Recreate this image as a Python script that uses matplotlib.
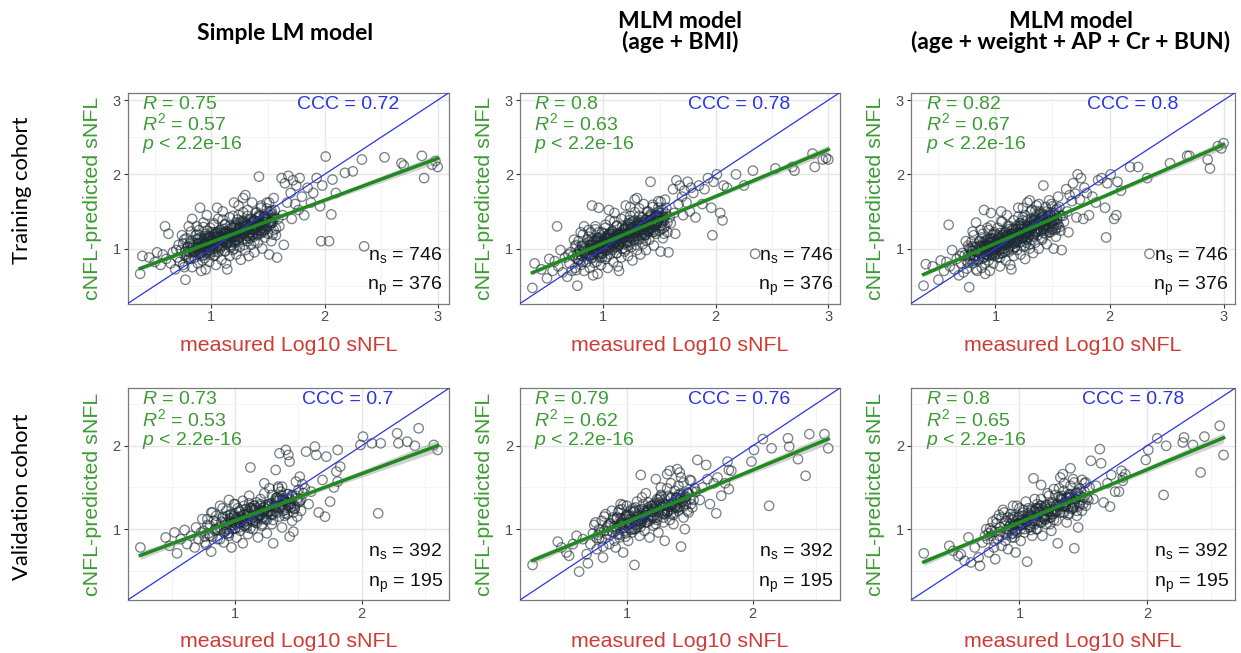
import numpy as np
import matplotlib.pyplot as plt

plt.rcParams['font.family'] = ['Liberation Sans', 'DejaVu Sans']
plt.rcParams['mathtext.fontset'] = 'custom'
plt.rcParams['mathtext.rm'] = 'Liberation Sans'
plt.rcParams['mathtext.it'] = 'Liberation Sans:italic'

models = [['Simple LM model'], ['MLM model', '(age + BMI)'],
          ['MLM model', '(age + weight + AP + Cr + BUN)']]
cohorts = ['Training cohort', 'Validation cohort']

# measured log10 sNFL, training cohort (shared by the three models)
train_x = [
    0.37, 0.39, 0.45, 0.50, 0.52, 0.55, 0.57, 0.59, 0.60, 0.62, 0.64,
    0.66, 0.68, 0.70, 0.71, 0.72, 0.73, 0.75, 0.76, 0.77, 0.78, 0.79, 0.80, 0.80, 0.74, 0.69,
    0.81, 0.82, 0.83, 0.84, 0.85, 0.86, 0.87, 0.88, 0.88, 0.89, 0.90, 0.91, 0.91, 0.92, 0.93,
    0.94, 0.94, 0.95, 0.96, 0.96, 0.97, 0.98, 0.98, 0.99, 0.99, 1.00, 0.83, 0.87, 0.95, 0.90,
    1.01, 1.02, 1.02, 1.03, 1.04, 1.04, 1.05, 1.06, 1.06, 1.07, 1.08, 1.08, 1.09, 1.10, 1.10,
    1.11, 1.12, 1.12, 1.13, 1.14, 1.14, 1.15, 1.16, 1.16, 1.17, 1.18, 1.18, 1.19, 1.20, 1.20,
    1.05, 1.13,
    1.21, 1.22, 1.22, 1.23, 1.24, 1.25, 1.25, 1.26, 1.27, 1.28, 1.28, 1.29, 1.30, 1.31, 1.32,
    1.32, 1.33, 1.34, 1.35, 1.35, 1.36, 1.37, 1.38, 1.38, 1.39, 1.40, 1.30, 1.24,
    1.41, 1.42, 1.42, 1.43, 1.44, 1.45, 1.46, 1.47, 1.48, 1.49, 1.50, 1.51, 1.52, 1.53, 1.54,
    1.55, 1.56, 1.57, 1.58, 1.59, 1.60, 1.55,
    1.62, 1.63, 1.64, 1.65, 1.67, 1.68, 1.70, 1.71, 1.72, 1.74, 1.75, 1.77, 1.78, 1.80, 1.82,
    1.85, 1.88, 1.90,
    1.93, 1.96, 1.97, 1.98, 2.01, 2.04, 2.06, 2.07, 2.10, 2.18, 2.25, 2.33, 2.35,
    2.53, 2.68, 2.70, 2.86, 2.88, 2.95, 3.00, 2.98,
    # dense core
    0.76, 0.82, 0.78, 0.84, 0.80, 0.77, 0.83, 0.79, 0.81, 0.75, 0.78, 0.82, 0.80, 0.84, 0.76, 0.81,
    0.86, 0.92, 0.88, 0.94, 0.90, 0.87, 0.93, 0.89, 0.91, 0.85, 0.88, 0.92, 0.90, 0.94, 0.86, 0.91,
    0.96, 1.02, 0.98, 1.04, 1.00, 0.97, 1.03, 0.99, 1.01, 0.95, 0.98, 1.02, 1.00, 1.04, 0.96, 1.01,
    1.06, 1.12, 1.08, 1.14, 1.10, 1.07, 1.13, 1.09, 1.11, 1.05, 1.08, 1.12, 1.10, 1.14, 1.06, 1.11,
    1.16, 1.22, 1.18, 1.24, 1.20, 1.17, 1.23, 1.19, 1.21, 1.15, 1.18, 1.22, 1.20, 1.24, 1.16, 1.21,
    1.26, 1.32, 1.28, 1.34, 1.30, 1.27, 1.33, 1.29, 1.31, 1.25, 1.28, 1.32, 1.30, 1.34, 1.26, 1.31,
    1.36, 1.42, 1.38, 1.44, 1.40, 1.37, 1.43, 1.39, 1.41, 1.35, 1.38, 1.42, 1.40, 1.44, 1.36, 1.41,
    1.46, 1.52, 1.48, 1.54, 1.50, 1.47, 1.53, 1.49, 1.51, 1.45, 1.48, 1.52, 1.50, 1.54, 1.46, 1.51,
    0.91, 0.96, 0.89, 0.94, 0.92, 0.97, 0.88, 0.93, 1.01, 1.06, 0.99, 1.04, 1.02, 1.07, 0.98, 1.03,
    1.11, 1.16, 1.09, 1.14, 1.12, 1.17, 1.08, 1.13, 1.21, 1.26, 1.19, 1.24, 1.22, 1.27, 1.18, 1.23,
    1.31, 1.36, 1.29, 1.34, 1.32, 1.37, 1.28, 1.33, 1.41, 1.46, 1.39, 1.44, 1.42, 1.47, 1.38, 1.43,
    1.51, 1.56, 1.49, 1.54, 1.52, 1.57, 1.48, 1.53,
    0.90, 0.95, 0.92, 0.97, 0.94, 0.99, 0.91, 0.96, 0.93, 0.98,
    1.00, 1.05, 1.02, 1.07, 1.04, 1.09, 1.01, 1.06, 1.03, 1.08,
    1.10, 1.15, 1.12, 1.17, 1.14, 1.19, 1.11, 1.16, 1.13, 1.18,
    1.20, 1.25, 1.22, 1.27, 1.24, 1.29, 1.21, 1.26, 1.23, 1.28,
    1.30, 1.35, 1.32, 1.37, 1.34, 1.39, 1.31, 1.36, 1.33, 1.38,
    1.40, 1.45, 1.42, 1.47, 1.44, 1.49, 1.41, 1.46, 1.43, 1.48,
]

train_pred_lm = [
    0.66, 0.90, 0.88, 0.82, 0.95, 0.78, 0.92, 1.30, 0.86, 1.20, 0.80,
    0.95, 0.72, 0.88, 1.05, 0.82, 0.98, 0.78, 1.12, 0.58, 0.92, 1.02, 0.86, 1.30, 1.18, 0.98,
    0.95, 1.10, 0.75, 1.02, 0.88, 1.18, 0.98, 1.06, 0.80, 1.25, 0.93, 1.12, 0.70, 1.00, 1.35,
    0.87, 1.08, 1.20, 0.96, 1.45, 1.04, 0.82, 1.14, 0.92, 1.28, 1.05, 1.40, 1.30, 0.72, 1.55,
    1.12, 0.90, 1.32, 1.00, 1.20, 0.78, 1.08, 1.40, 0.95, 1.15, 1.02, 1.25, 0.85, 1.10, 1.50,
    1.18, 0.97, 1.32, 1.06, 1.22, 0.72, 1.12, 0.90, 1.42, 1.02, 1.28, 1.15, 0.98, 1.20, 1.62,
    1.55, 0.80,
    1.08, 1.35, 0.92, 1.16, 1.45, 1.02, 1.25, 0.85, 1.12, 1.38, 1.68, 1.20, 0.98, 1.30, 1.10,
    1.52, 0.90, 1.22, 1.40, 1.05, 1.62, 1.16, 1.30, 0.95, 1.48, 1.20, 1.72, 1.58,
    1.08, 1.35, 1.97, 1.25, 1.55, 1.00, 1.40, 1.15, 1.30, 1.62, 1.20, 0.92, 1.45, 1.10, 1.35,
    1.25, 1.52, 1.18, 0.88, 1.40, 1.30, 1.68,
    1.95, 1.45, 1.05, 1.88, 1.62, 1.98, 1.75, 1.40, 1.92, 1.60, 1.85, 1.52, 1.95, 1.70, 1.45,
    1.82, 1.62, 1.75,
    1.95, 1.57, 1.10, 1.85, 2.24, 1.10, 1.46, 1.93, 1.75, 2.02, 2.04, 2.20, 1.03,
    2.23, 2.15, 2.12, 2.25, 1.95, 2.13, 2.10, 2.18,
    # dense core
    0.75, 0.86, 0.89, 0.95, 0.96, 0.96, 1.01, 1.02, 1.06, 1.07, 1.14, 1.23, 0.88, 1.04, 0.91, 1.08,
    1.01, 1.06, 1.07, 1.14, 1.15, 1.19, 1.29, 0.93, 1.08, 0.96, 1.12, 0.84, 0.90, 0.98, 0.96, 1.02,
    1.24, 1.34, 0.98, 1.15, 1.05, 1.17, 0.91, 0.95, 1.02, 1.01, 1.06, 1.10, 1.11, 1.16, 1.15, 1.22,
    1.22, 0.96, 1.00, 1.09, 1.10, 1.11, 1.16, 1.16, 1.20, 1.20, 1.25, 1.33, 1.39, 1.07, 1.16, 1.11,
    1.16, 1.21, 1.21, 1.28, 1.28, 1.31, 1.39, 1.44, 1.11, 1.21, 1.15, 1.31, 1.00, 1.10, 1.10, 1.16,
    1.36, 1.44, 1.49, 1.18, 1.30, 1.20, 1.38, 1.05, 1.13, 1.15, 1.20, 1.25, 1.26, 1.30, 1.29, 1.34,
    1.25, 1.43, 1.10, 1.21, 1.24, 1.25, 1.31, 1.31, 1.34, 1.34, 1.38, 1.45, 1.49, 1.58, 1.19, 1.36,
    1.30, 1.36, 1.36, 1.41, 1.42, 1.43, 1.51, 1.54, 1.62, 1.24, 1.40, 1.34, 1.47, 1.19, 1.22, 1.30,
    0.94, 1.02, 1.01, 1.07, 1.08, 1.14, 1.13, 0.91, 1.11, 1.16, 1.15, 1.22, 0.96, 1.03, 1.03, 1.09,
    1.26, 1.04, 1.04, 1.12, 1.14, 1.20, 1.17, 1.23, 1.16, 1.22, 1.21, 1.27, 1.28, 1.35, 1.05, 1.12,
    1.30, 1.36, 1.36, 1.14, 1.17, 1.25, 1.23, 1.29, 1.18, 1.25, 1.26, 1.32, 1.34, 1.40, 1.37, 1.44,
    1.36, 1.42, 1.41, 1.46, 1.49, 1.27, 1.26, 1.34,
    0.95, 1.02, 1.03, 1.09, 1.11, 1.17, 0.98, 1.07, 1.12, 0.97,
    1.11, 1.17, 1.19, 1.07, 1.11, 1.21, 0.99, 1.04, 1.07, 1.12,
    1.09, 1.17, 1.23, 1.08, 1.09, 1.16, 1.14, 1.20, 1.21, 1.28,
    1.09, 1.15, 1.17, 1.23, 1.25, 1.30, 1.30, 1.18, 1.22, 1.32,
    1.25, 1.31, 1.32, 1.39, 1.22, 1.31, 1.34, 1.18, 1.20, 1.26,
    1.41, 1.28, 1.33, 1.43, 1.23, 1.29, 1.28, 1.34, 1.35, 1.41,
]

train_pred_bmi = [
    0.47, 0.80, 0.72, 0.60, 0.86, 0.70, 0.83, 1.30, 0.76, 0.98, 0.68,
    0.88, 0.62, 0.80, 0.95, 0.70, 0.90, 0.74, 1.05, 0.50, 0.85, 0.96, 0.78, 1.22, 1.12, 0.92,
    0.90, 1.04, 0.70, 0.96, 0.82, 1.12, 0.92, 1.00, 0.74, 1.22, 0.88, 1.08, 0.64, 0.96, 1.30,
    0.82, 1.04, 1.15, 0.92, 1.55, 1.00, 0.78, 1.10, 0.88, 1.22, 1.02, 1.30, 1.25, 0.66, 1.58,
    1.10, 0.86, 1.28, 0.98, 1.18, 0.74, 1.04, 1.38, 0.92, 1.12, 1.00, 1.22, 0.82, 1.08, 1.48,
    1.16, 0.94, 1.30, 1.04, 1.20, 0.70, 1.10, 0.88, 1.40, 1.00, 1.26, 1.14, 0.96, 1.20, 1.58,
    1.52, 0.76,
    1.08, 1.34, 0.90, 1.16, 1.44, 1.02, 1.26, 0.84, 1.12, 1.38, 1.66, 1.22, 0.98, 1.32, 1.12,
    1.54, 0.92, 1.24, 1.42, 1.06, 1.60, 1.18, 1.32, 0.98, 1.50, 1.22, 1.68, 1.56,
    1.12, 1.38, 1.90, 1.28, 1.56, 1.04, 1.42, 1.20, 1.34, 1.64, 1.24, 0.96, 1.48, 1.14, 1.38,
    1.30, 1.55, 1.22, 0.95, 1.42, 1.34, 1.66,
    1.80, 1.48, 1.20, 1.92, 1.60, 1.85, 1.70, 1.45, 1.78, 1.62, 1.90, 1.50, 1.82, 1.75, 1.42,
    1.85, 1.60, 1.80,
    1.95, 1.55, 1.18, 1.90, 2.00, 1.48, 1.38, 1.85, 1.82, 2.00, 1.85, 2.05, 0.93,
    2.08, 2.10, 2.05, 2.28, 2.10, 2.20, 2.20, 2.22,
    # dense core
    0.71, 0.82, 0.85, 0.91, 0.92, 0.92, 0.97, 0.98, 1.02, 1.03, 1.10, 1.19, 0.84, 1.00, 0.87, 1.04,
    0.98, 1.03, 1.04, 1.11, 1.12, 1.16, 1.26, 0.90, 1.05, 0.93, 1.09, 0.81, 0.87, 0.95, 0.93, 0.99,
    1.22, 1.32, 0.96, 1.13, 1.03, 1.15, 0.89, 0.93, 1.00, 0.99, 1.04, 1.08, 1.09, 1.14, 1.13, 1.20,
    1.20, 0.94, 0.98, 1.07, 1.08, 1.09, 1.14, 1.14, 1.18, 1.18, 1.23, 1.31, 1.37, 1.05, 1.14, 1.09,
    1.15, 1.20, 1.20, 1.27, 1.27, 1.30, 1.38, 1.43, 1.10, 1.20, 1.14, 1.30, 0.99, 1.09, 1.09, 1.15,
    1.36, 1.44, 1.49, 1.18, 1.30, 1.20, 1.38, 1.05, 1.13, 1.15, 1.20, 1.25, 1.26, 1.30, 1.29, 1.34,
    1.26, 1.44, 1.11, 1.22, 1.25, 1.26, 1.32, 1.32, 1.35, 1.35, 1.39, 1.46, 1.50, 1.59, 1.20, 1.37,
    1.31, 1.37, 1.37, 1.42, 1.43, 1.44, 1.52, 1.55, 1.63, 1.25, 1.41, 1.35, 1.48, 1.20, 1.23, 1.31,
    0.98, 1.04, 1.05, 1.11, 1.10, 0.88, 0.91, 0.99, 1.13, 1.20, 0.94, 1.01, 1.01, 1.07, 1.09, 1.14,
    1.02, 1.10, 1.12, 1.18, 1.15, 1.21, 1.24, 1.02, 1.20, 1.26, 1.27, 1.34, 1.04, 1.11, 1.15, 1.21,
    1.36, 1.14, 1.17, 1.25, 1.23, 1.29, 1.30, 1.36, 1.27, 1.33, 1.35, 1.41, 1.38, 1.45, 1.19, 1.26,
    1.42, 1.47, 1.50, 1.28, 1.27, 1.35, 1.37, 1.43,
    1.08, 1.14, 0.95, 1.04, 1.09, 0.94, 0.92, 0.99, 1.00, 1.06,
    1.09, 1.19, 0.97, 1.02, 1.05, 1.10, 1.09, 1.15, 1.17, 1.05,
    1.07, 1.14, 1.12, 1.18, 1.19, 1.26, 1.07, 1.15, 1.21, 1.06,
    1.24, 1.29, 1.29, 1.17, 1.21, 1.31, 1.08, 1.14, 1.16, 1.22,
    1.22, 1.31, 1.34, 1.18, 1.20, 1.26, 1.25, 1.31, 1.32, 1.39,
    1.24, 1.30, 1.29, 1.35, 1.36, 1.42, 1.42, 1.29, 1.34, 1.44,
]

train_pred_full = [
    0.50, 0.79, 0.76, 0.58, 0.84, 0.70, 0.82, 1.32, 0.76, 0.98, 0.72,
    0.86, 0.64, 0.80, 0.94, 0.68, 0.91, 0.73, 1.04, 0.48, 0.86, 0.97, 0.80, 1.23, 1.10, 0.90,
    0.90, 1.02, 0.72, 0.95, 0.84, 1.10, 0.93, 1.00, 0.74, 1.20, 0.88, 1.06, 0.66, 0.96, 1.28,
    0.84, 1.04, 1.14, 0.93, 1.48, 1.00, 0.80, 1.10, 0.90, 1.22, 1.02, 1.35, 1.25, 0.70, 1.52,
    1.10, 0.88, 1.28, 0.98, 1.16, 0.76, 1.06, 1.36, 0.94, 1.12, 1.00, 1.22, 0.84, 1.08, 1.45,
    1.16, 0.96, 1.30, 1.04, 1.20, 0.72, 1.10, 0.90, 1.38, 1.02, 1.26, 1.14, 0.98, 1.20, 1.55,
    1.50, 0.78,
    1.08, 1.34, 0.92, 1.16, 1.42, 1.02, 1.26, 0.86, 1.12, 1.38, 1.62, 1.22, 1.00, 1.32, 1.12,
    1.52, 0.94, 1.24, 1.42, 1.08, 1.58, 1.18, 1.34, 1.00, 1.50, 1.24, 1.65, 1.55,
    1.14, 1.38, 1.85, 1.30, 1.56, 1.06, 1.44, 1.22, 1.34, 1.60, 1.26, 1.00, 1.48, 1.16, 1.40,
    1.32, 1.56, 1.24, 0.98, 1.44, 1.36, 1.70,
    1.80, 1.50, 1.22, 1.72, 1.64, 1.88, 1.74, 1.42, 2.00, 1.66, 1.95, 1.40, 1.82, 1.75, 1.45,
    1.70, 1.62, 1.92,
    1.95, 1.55, 1.15, 1.88, 2.00, 1.40, 1.45, 1.90, 1.78, 2.10, 2.10, 1.95, 0.93,
    2.15, 2.25, 2.25, 2.20, 2.08, 2.38, 2.42, 2.35,
    # dense core
    0.90, 0.91, 0.91, 0.96, 0.97, 1.01, 1.02, 1.09, 1.18, 0.83, 0.99, 0.86, 1.03, 0.70, 0.81, 0.84,
    1.10, 1.11, 1.15, 1.25, 0.89, 1.04, 0.92, 1.08, 0.80, 0.86, 0.94, 0.92, 0.98, 0.97, 1.02, 1.03,
    1.12, 1.02, 1.14, 0.88, 0.92, 0.99, 0.98, 1.03, 1.07, 1.08, 1.13, 1.12, 1.19, 1.21, 1.31, 0.95,
    1.07, 1.08, 1.09, 1.14, 1.14, 1.18, 1.18, 1.23, 1.31, 1.37, 1.05, 1.14, 1.09, 1.20, 0.94, 0.98,
    1.27, 1.27, 1.30, 1.38, 1.43, 1.10, 1.20, 1.14, 1.30, 0.99, 1.09, 1.09, 1.15, 1.15, 1.20, 1.20,
    1.19, 1.31, 1.21, 1.39, 1.06, 1.14, 1.16, 1.21, 1.26, 1.27, 1.31, 1.30, 1.35, 1.37, 1.45, 1.50,
    1.23, 1.26, 1.27, 1.33, 1.33, 1.36, 1.36, 1.40, 1.47, 1.51, 1.60, 1.21, 1.38, 1.27, 1.45, 1.12,
    1.44, 1.45, 1.46, 1.54, 1.57, 1.65, 1.27, 1.43, 1.37, 1.50, 1.22, 1.25, 1.33, 1.33, 1.39, 1.39,
    1.10, 1.09, 0.87, 0.90, 0.98, 0.97, 1.03, 1.04, 1.00, 1.00, 1.06, 1.08, 1.13, 1.12, 1.19, 0.93,
    1.18, 1.15, 1.21, 1.24, 1.02, 1.02, 1.10, 1.12, 1.34, 1.04, 1.11, 1.15, 1.21, 1.20, 1.26, 1.27,
    1.26, 1.24, 1.30, 1.31, 1.37, 1.37, 1.15, 1.18, 1.42, 1.39, 1.46, 1.20, 1.27, 1.28, 1.34, 1.36,
    1.30, 1.29, 1.37, 1.39, 1.45, 1.44, 1.49, 1.52,
    1.03, 1.08, 0.93, 0.91, 0.98, 0.99, 1.05, 1.07, 1.13, 0.94,
    1.01, 1.04, 1.09, 1.08, 1.14, 1.16, 1.04, 1.08, 1.18, 0.96,
    1.18, 1.19, 1.26, 1.07, 1.15, 1.21, 1.06, 1.07, 1.14, 1.12,
    1.17, 1.21, 1.31, 1.08, 1.14, 1.16, 1.22, 1.24, 1.29, 1.29,
    1.19, 1.21, 1.27, 1.26, 1.32, 1.33, 1.40, 1.23, 1.32, 1.35,
    1.36, 1.37, 1.43, 1.43, 1.30, 1.35, 1.45, 1.25, 1.31, 1.30,
]

# measured log10 sNFL, validation cohort
valid_x = [
    0.25, 0.45, 0.48, 0.52, 0.54, 0.57, 0.60, 0.62, 0.65, 0.68,
    0.69, 0.71, 0.73, 0.74, 0.76, 0.78, 0.80, 0.81, 0.82, 0.84,
    0.85, 0.86, 0.88, 0.89, 0.90, 0.91, 0.92, 0.93, 0.94, 0.95,
    0.96, 0.97, 0.98, 0.99, 1.00, 1.01, 1.02, 1.03, 1.04, 1.05,
    1.06, 1.07, 1.08, 1.09, 1.10, 1.11, 1.12, 1.12, 1.13, 1.14,
    1.15, 1.16, 1.17, 1.18, 1.19, 1.20, 1.21, 1.22, 1.23, 1.24,
    1.25, 1.26, 1.27, 1.28, 1.29, 1.30, 1.31, 1.32, 1.33, 1.34,
    1.35, 1.35, 1.36, 1.37, 1.38, 1.39, 1.40, 1.41, 1.42, 1.43,
    1.43, 1.44, 1.45, 1.46, 1.47, 1.48, 1.49, 1.50, 1.51, 1.52,
    1.55, 1.56, 1.58, 1.60, 1.63, 1.64, 1.66, 1.69, 1.71, 1.72,
    1.75, 1.78, 1.80, 1.81, 1.83, 1.81, 1.99, 2.01, 2.08, 2.13,
    2.15, 2.28, 2.29, 2.36, 2.42, 2.45, 2.57, 2.60,
    # dense core
    0.77, 0.82, 0.79, 0.84, 0.75, 0.80, 0.83, 0.78, 0.81, 0.76,
    0.87, 0.92, 0.89, 0.94, 0.85, 0.90, 0.93, 0.88, 0.91, 0.86,
    0.97, 1.02, 0.99, 1.04, 0.95, 1.00, 1.03, 0.98, 1.01, 0.96,
    1.07, 1.12, 1.09, 1.14, 1.05, 1.10, 1.13, 1.08, 1.11, 1.06,
    1.17, 1.22, 1.19, 1.24, 1.15, 1.20, 1.23, 1.18, 1.21, 1.16,
    1.27, 1.32, 1.29, 1.34, 1.25, 1.30, 1.33, 1.28, 1.31, 1.26,
    1.37, 1.42, 1.39, 1.44, 1.35, 1.40, 1.43, 1.38, 1.41, 1.36,
    1.47, 1.52, 1.49, 1.54, 1.45, 1.50, 1.53, 1.48, 1.51, 1.46,
    0.92, 0.97, 0.94, 0.99, 0.90, 0.95, 1.02, 1.07, 1.04, 1.09, 1.00, 1.05,
    1.12, 1.17, 1.14, 1.19, 1.10, 1.15, 1.22, 1.27, 1.24, 1.29, 1.20, 1.25,
    1.32, 1.37, 1.34, 1.39, 1.30, 1.35, 1.42, 1.47, 1.44, 1.49, 1.40, 1.45,
    0.95, 1.00, 0.97, 1.02, 0.99, 1.03, 0.96, 1.01,
    1.05, 1.10, 1.07, 1.12, 1.09, 1.13, 1.06, 1.11,
    1.15, 1.20, 1.17, 1.22, 1.19, 1.23, 1.16, 1.21,
    1.25, 1.30, 1.27, 1.32, 1.29, 1.33, 1.26, 1.31,
    1.35, 1.40, 1.37, 1.42, 1.39, 1.43, 1.36, 1.41,
]

valid_pred_lm = [
    0.78, 0.90, 0.80, 0.96, 0.71, 0.88, 0.99, 0.82, 0.92, 0.78,
    1.02, 0.88, 0.96, 1.12, 0.84, 1.05, 0.92, 0.73, 1.20, 0.98,
    1.08, 0.88, 1.28, 1.00, 1.15, 0.84, 1.05, 1.22, 0.95, 1.35,
    1.10, 0.78, 1.00, 1.18, 1.30, 0.90, 1.08, 1.22, 0.98, 1.14,
    0.83, 1.28, 1.04, 1.18, 0.94, 1.40, 1.74, 1.12, 1.25, 1.00,
    1.20, 1.08, 1.32, 0.90, 1.16, 1.28, 1.04, 1.22, 1.55, 1.12,
    0.95, 1.30, 1.49, 1.18, 1.06, 0.83, 1.25, 1.71, 1.38, 1.51,
    1.91, 1.15, 1.28, 1.02, 1.22, 1.35, 1.95, 1.18, 1.89, 0.91,
    1.81, 1.30, 1.10, 0.97, 1.25, 1.40, 1.15, 1.32, 1.63, 1.22,
    1.49, 1.93, 1.30, 1.45, 1.99, 1.89, 1.20, 1.59, 1.15, 1.87,
    1.33, 1.50, 1.69, 1.95, 1.75, 1.57, 2.01, 2.11, 2.03, 1.19,
    2.03, 2.15, 2.03, 2.05, 2.00, 2.21, 2.01, 1.95,
    # dense core
    0.81, 0.91, 0.95, 1.00, 0.98, 1.04, 1.10, 1.12, 1.20, 0.91,
    1.02, 1.08, 1.09, 1.16, 1.16, 1.25, 1.00, 0.88, 0.96, 0.99,
    1.18, 1.25, 1.30, 1.07, 0.92, 1.01, 1.08, 1.08, 1.13, 1.13,
    1.08, 1.01, 1.06, 1.14, 1.12, 1.18, 1.23, 1.24, 1.31, 1.34,
    1.16, 1.22, 1.23, 1.29, 1.28, 1.36, 1.43, 1.14, 1.06, 1.10,
    1.30, 1.37, 1.41, 1.49, 1.18, 1.11, 1.20, 1.22, 1.27, 1.27,
    1.51, 1.28, 1.16, 1.26, 1.26, 1.32, 1.36, 1.37, 1.42, 1.45,
    1.28, 1.35, 1.37, 1.43, 1.41, 1.47, 1.54, 1.57, 1.33, 1.20,
    0.97, 1.05, 1.07, 1.14, 1.13, 0.95, 1.11, 1.18, 1.21, 1.02, 1.01, 1.09,
    1.25, 1.07, 1.09, 1.17, 1.16, 1.23, 1.14, 1.21, 1.24, 1.31, 1.30, 1.11,
    1.28, 1.35, 1.37, 1.19, 1.18, 1.26, 1.42, 1.24, 1.26, 1.34, 1.33, 1.40,
    1.00, 1.07, 1.09, 1.14, 1.16, 1.02, 1.17, 1.06,
    1.16, 1.22, 1.04, 1.26, 1.10, 1.11, 1.11, 1.16,
    1.28, 1.17, 1.13, 1.20, 1.21, 1.26, 1.25, 1.12,
    1.21, 1.27, 1.28, 1.34, 1.17, 1.38, 1.20, 1.21,
    1.36, 1.23, 1.40, 1.29, 1.25, 1.31, 1.30, 1.36,
]

valid_pred_bmi = [
    0.57, 0.85, 0.78, 0.72, 0.68, 0.82, 0.92, 0.49, 0.88, 0.70,
    0.59, 0.82, 0.95, 1.05, 0.76, 1.00, 0.88, 0.66, 1.15, 0.94,
    1.04, 0.82, 1.22, 0.96, 1.12, 0.78, 1.02, 1.20, 0.90, 1.30,
    1.08, 0.72, 0.98, 1.16, 1.28, 0.86, 1.06, 1.22, 0.96, 1.12,
    0.57, 1.26, 1.02, 1.18, 0.92, 1.65, 1.38, 1.12, 1.24, 0.98,
    1.20, 1.08, 1.32, 0.90, 1.16, 1.28, 1.04, 1.24, 1.60, 1.14,
    0.96, 1.32, 1.50, 1.20, 1.08, 0.86, 1.28, 1.66, 1.40, 1.70,
    1.55, 1.18, 1.30, 1.06, 1.26, 1.38, 1.72, 1.22, 1.68, 0.79,
    1.62, 1.34, 1.14, 1.00, 1.30, 1.44, 1.20, 1.36, 1.58, 1.26,
    1.45, 1.83, 1.35, 1.50, 1.77, 1.60, 1.30, 1.55, 1.19, 1.62,
    1.40, 1.55, 1.81, 1.71, 1.70, 1.48, 1.81, 1.95, 2.08, 1.28,
    1.97, 2.09, 1.99, 1.84, 1.64, 2.14, 2.14, 1.97,
    # dense core
    0.93, 0.98, 0.96, 1.02, 1.08, 1.10, 1.18, 0.89, 0.79, 0.89,
    1.07, 1.14, 1.14, 1.23, 0.98, 0.86, 0.94, 0.97, 1.00, 1.06,
    1.29, 1.06, 0.91, 1.00, 1.07, 1.07, 1.12, 1.12, 1.17, 1.24,
    1.05, 1.13, 1.11, 1.17, 1.22, 1.23, 1.30, 1.33, 1.07, 1.00,
    1.23, 1.29, 1.28, 1.36, 1.43, 1.14, 1.06, 1.10, 1.16, 1.22,
    1.41, 1.49, 1.18, 1.11, 1.20, 1.22, 1.27, 1.27, 1.30, 1.37,
    1.17, 1.27, 1.27, 1.33, 1.37, 1.38, 1.43, 1.46, 1.52, 1.29,
    1.39, 1.45, 1.43, 1.49, 1.56, 1.59, 1.35, 1.22, 1.30, 1.37,
    1.12, 1.11, 0.93, 0.95, 1.03, 1.05, 1.01, 1.00, 1.08, 1.10, 1.17, 1.20,
    1.16, 1.15, 1.22, 1.24, 1.06, 1.08, 1.31, 1.30, 1.11, 1.14, 1.21, 1.24,
    1.20, 1.19, 1.27, 1.29, 1.36, 1.38, 1.35, 1.34, 1.41, 1.43, 1.25, 1.27,
    1.13, 1.15, 1.01, 1.16, 1.05, 0.99, 1.06, 1.08,
    1.25, 1.09, 1.10, 1.10, 1.15, 1.15, 1.21, 1.03,
    1.20, 1.21, 1.26, 1.25, 1.12, 1.28, 1.17, 1.13,
    1.35, 1.18, 1.39, 1.21, 1.22, 1.22, 1.28, 1.29,
    1.30, 1.26, 1.32, 1.31, 1.37, 1.37, 1.24, 1.41,
]

valid_pred_full = [
    0.71, 0.80, 0.74, 0.68, 0.70, 0.62, 0.90, 0.60, 0.78, 0.66,
    0.56, 0.84, 0.92, 1.00, 0.72, 0.98, 0.86, 0.64, 1.12, 0.92,
    1.02, 0.80, 1.20, 0.95, 1.10, 0.76, 1.00, 1.18, 0.90, 1.28,
    1.06, 0.72, 0.96, 1.14, 1.25, 0.86, 1.05, 1.20, 0.96, 1.12,
    0.61, 1.25, 1.02, 1.16, 0.92, 1.61, 1.36, 1.10, 1.24, 1.00,
    1.20, 1.08, 1.53, 0.92, 1.16, 1.28, 1.06, 1.24, 1.40, 1.14,
    0.98, 1.32, 1.48, 1.20, 1.10, 0.83, 1.28, 1.62, 1.40, 1.66,
    1.55, 1.20, 1.32, 1.08, 1.26, 1.40, 1.73, 1.24, 1.60, 0.77,
    1.56, 1.36, 1.16, 1.02, 1.30, 1.45, 1.22, 1.38, 1.55, 1.28,
    1.50, 1.82, 1.36, 1.52, 1.96, 1.79, 1.32, 1.55, 1.27, 1.65,
    1.45, 1.45, 1.70, 1.62, 1.66, 1.58, 1.83, 1.95, 2.09, 1.41,
    2.00, 2.04, 2.10, 2.01, 1.68, 2.11, 2.24, 1.89,
    # dense core
    1.01, 1.07, 1.09, 1.17, 0.88, 0.78, 0.88, 0.92, 0.97, 0.95,
    1.23, 0.98, 0.86, 0.94, 0.97, 1.00, 1.06, 1.07, 1.14, 1.14,
    0.99, 1.06, 1.06, 1.11, 1.11, 1.16, 1.23, 1.28, 1.05, 0.90,
    1.17, 1.22, 1.23, 1.30, 1.33, 1.07, 1.00, 1.05, 1.13, 1.11,
    1.36, 1.43, 1.14, 1.06, 1.10, 1.16, 1.22, 1.23, 1.29, 1.28,
    1.11, 1.20, 1.22, 1.27, 1.27, 1.30, 1.37, 1.41, 1.49, 1.18,
    1.33, 1.37, 1.38, 1.43, 1.46, 1.52, 1.29, 1.17, 1.27, 1.27,
    1.49, 1.56, 1.59, 1.35, 1.22, 1.30, 1.37, 1.39, 1.45, 1.43,
    1.03, 1.05, 1.12, 1.11, 0.93, 0.95, 1.16, 1.19, 1.00, 0.99, 1.07, 1.09,
    1.06, 1.08, 1.16, 1.15, 1.22, 1.24, 1.21, 1.24, 1.31, 1.30, 1.11, 1.14,
    1.36, 1.38, 1.20, 1.19, 1.27, 1.29, 1.26, 1.28, 1.36, 1.35, 1.42, 1.44,
    1.15, 1.04, 0.98, 1.05, 1.07, 1.12, 1.14, 1.00,
    1.10, 1.15, 1.15, 1.21, 1.03, 1.25, 1.09, 1.10,
    1.25, 1.12, 1.28, 1.17, 1.13, 1.20, 1.21, 1.26,
    1.21, 1.22, 1.22, 1.28, 1.29, 1.35, 1.18, 1.39,
    1.32, 1.38, 1.38, 1.25, 1.42, 1.31, 1.27, 1.33,
]

# fitted regression lines (intercept, slope) per cohort x model
fit_icpt = [[0.524, 0.442, 0.406], [0.545, 0.469, 0.447]]
fit_slope = [[0.564, 0.631, 0.665], [0.560, 0.620, 0.634]]

r_vals = [[0.75, 0.8, 0.82], [0.73, 0.79, 0.8]]
r2_vals = [[0.57, 0.63, 0.67], [0.53, 0.62, 0.65]]
ccc_vals = [[0.72, 0.78, 0.8], [0.7, 0.76, 0.78]]
n_samples = [746, 392]
n_patients = [376, 195]

panels = [
    [(train_x, train_pred_lm), (train_x, train_pred_bmi), (train_x, train_pred_full)],
    [(valid_x, valid_pred_lm), (valid_x, valid_pred_bmi), (valid_x, valid_pred_full)],
]

GREEN_TXT = '#3d9b35'
GREEN_LINE = '#1f8a1f'
BLUE = '#2b35e0'
RED = '#d03b35'

col_left = [0.1029, 0.4190, 0.7341]
col_width = [0.2589, 0.2575, 0.2611]
row_bottom = [0.5352, 0.0812]
row_height = [0.3228, 0.3242]
row_lim = [(0.26, 3.10), (0.15, 2.69)]


def smooth_band(x, y, icpt, slope, n_tot):
    # line over the x range plus a 95% band, scaled to the full sample size
    x = np.asarray(x)
    y = np.asarray(y)
    xs = np.linspace(x.min(), x.max(), 100)
    ys = icpt + slope * xs
    resid = y - (icpt + slope * x)
    s = np.sqrt(np.mean(resid ** 2))
    se = s * np.sqrt(1 / n_tot + (xs - x.mean()) ** 2 / (n_tot * x.var()))
    return xs, ys, 1.96 * se


fig = plt.figure(figsize=(12.41, 6.53), dpi=100)

for r in range(2):
    lo, hi = row_lim[r]
    for c in range(3):
        ax = fig.add_axes([col_left[c], row_bottom[r], col_width[c], row_height[r]])
        x, y = panels[r][c]
        ax.scatter(x, y, s=46, facecolors='none', edgecolors='#1c2a33',
                   linewidths=0.95, alpha=0.58, zorder=3)
        ax.plot([lo, hi], [lo, hi], color=BLUE, lw=0.9, zorder=4)
        xs, ys, band = smooth_band(x, y, fit_icpt[r][c], fit_slope[r][c], n_samples[r])
        ax.fill_between(xs, ys - band, ys + band, color='#999999', alpha=0.45,
                        lw=0, zorder=4)
        ax.plot(xs, ys, color=GREEN_LINE, lw=2.5, zorder=5)

        ax.set_xlim(lo, hi)
        ax.set_ylim(lo, hi)
        major = [t for t in (1, 2, 3) if lo < t < hi]
        minor = [t for t in (0.5, 1.5, 2.5) if lo < t < hi]
        ax.set_xticks(major)
        ax.set_yticks(major)
        ax.set_xticks(minor, minor=True)
        ax.set_yticks(minor, minor=True)
        ax.grid(which='major', color='#e6e6e6', lw=1.0, zorder=0)
        ax.grid(which='minor', color='#f2f2f2', lw=0.6, zorder=0)
        ax.set_axisbelow(True)
        ax.tick_params(which='major', length=3, width=0.8, color='#333333',
                       labelcolor='#4d4d4d', labelsize=10.5, pad=2)
        ax.tick_params(which='minor', length=0)
        for sp in ax.spines.values():
            sp.set_color('#7a7a7a')
            sp.set_linewidth(0.9)

        ax.set_xlabel('measured Log10 sNFL', color=RED, fontsize=15.4, labelpad=8)
        ax.set_ylabel('cNFL-predicted sNFL', color=GREEN_TXT, fontsize=15.4, labelpad=8)

        stats = (f"$R$ = {r_vals[r][c]:g}\n$R^2$ = {r2_vals[r][c]:g}\n"
                 f"$p$ < 2.2e-16")
        ax.text(0.045, 0.985, stats, transform=ax.transAxes, ha='left', va='top',
                color=GREEN_TXT, fontsize=14, linespacing=0.98, zorder=6)
        ax.text(0.685, 0.985, f"CCC = {ccc_vals[r][c]:g}", transform=ax.transAxes,
                ha='center', va='top', color=BLUE, fontsize=14, zorder=6)
        ax.text(0.98, 0.23, r"n$_\mathrm{s}$ = " + str(n_samples[r]),
                transform=ax.transAxes, ha='right', va='center', color='#111111',
                fontsize=14, zorder=6)
        ax.text(0.98, 0.08, r"n$_\mathrm{p}$ = " + str(n_patients[r]),
                transform=ax.transAxes, ha='right', va='center', color='#111111',
                fontsize=14, zorder=6)

# column titles and row labels
title_x = [285, 680, 1071]
title_rows = {1: [34], 2: [21, 42]}
for c, lines in enumerate(models):
    for line, ypx in zip(lines, title_rows[len(lines)]):
        fig.text(title_x[c] / 1241, 1 - ypx / 653, line, ha='center', va='center',
                 fontsize=16.5, fontweight='bold', family=['Lato', 'DejaVu Sans'])

row_y = [190, 497]
for r, name in enumerate(cohorts):
    fig.text(22 / 1241, 1 - row_y[r] / 653, name, rotation=90, ha='center',
             va='center', fontsize=15.8, family=['Lato', 'DejaVu Sans'])

fig.savefig('out.png', dpi=100)
